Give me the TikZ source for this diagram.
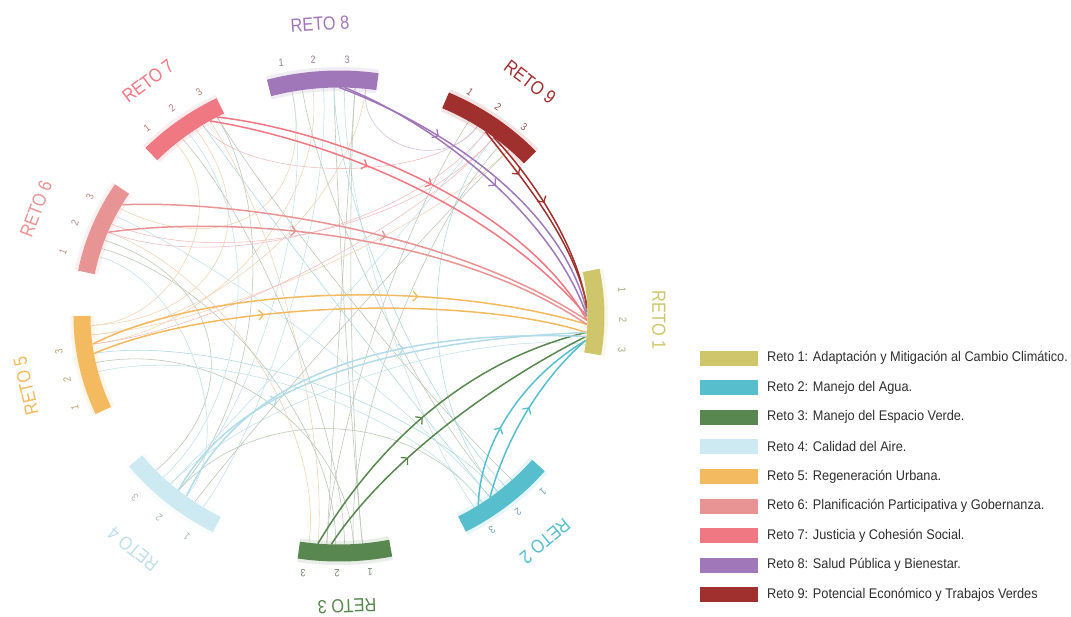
\documentclass[tikz,border=0pt]{standalone}
\usepackage{fontspec}
\newfontfamily\legendfont{Liberation Sans}[FakeStretch=0.91]
\newfontfamily\retofont{Liberation Sans}[FakeStretch=0.86]
\usetikzlibrary{calc,arrows.meta,decorations.markings}

% challenge colours
\definecolor{c1}{HTML}{CFC66C}
\definecolor{c2}{HTML}{56BECD}
\definecolor{c3}{HTML}{58874F}
\definecolor{c4}{HTML}{CDE9F2}
\definecolor{c5}{HTML}{F4BA60}
\definecolor{c6}{HTML}{E89494}
\definecolor{c7}{HTML}{F07882}
\definecolor{c8}{HTML}{A078B9}
\definecolor{c9}{HTML}{A0302D}
% faint chord colours
\definecolor{fgray}{HTML}{BAC6B6}
\definecolor{fblue}{HTML}{C0E2EB}
\definecolor{fpeach}{HTML}{F3D2B0}
\definecolor{fpink}{HTML}{F1BCC0}
\definecolor{flav}{HTML}{CFBFDE}
\definecolor{fteal}{HTML}{ABDAE2}
\definecolor{l4}{HTML}{B3DCE8}
\definecolor{r4text}{HTML}{BFE0EA}
\definecolor{legendtext}{HTML}{2F2F2F}

\tikzset{
  bar/.style={line width=17pt, draw=#1},
  halo/.style={line width=24pt, draw=#1, draw opacity=0.13},
  faint/.style={draw=#1, line width=0.55pt},
  chord/.style={to path={.. controls ($(\tikztostart)!#1!(C)$) and ($(\tikztotarget)!#1!(C)$) .. (\tikztotarget)}},
  chord/.default=0.5,
  flow/.style 2 args={draw=#1, line width=1.5pt, postaction={decorate},
    decoration={markings, mark=at position #2 with {\arrow[line width=1.3pt]{Straight Barb[length=4.5pt,width=10pt]}}}},
  digit/.style={font=\retofont\fontsize{10.5}{11}\selectfont, text=#1, inner sep=0pt},
  reto/.style={font=\retofont\fontsize{19}{20}\selectfont, text=#1, inner sep=0pt},
  swatch/.style={fill=#1, minimum width=58pt, minimum height=15pt, inner sep=0pt},
  legend/.style={font=\legendfont\fontsize{14}{16}\selectfont, text=legendtext, anchor=west, inner sep=0pt},
}

\begin{document}
\begin{tikzpicture}[x=1pt,y=-1pt]
\fill[white] (0,0) rectangle (1071,616);
\useasboundingbox (0,0) rectangle (1071,616);

\coordinate (C) at (339,316);

% attachment points along the inner edge of each challenge arc
\foreach \i/\a/\b in {1/-11.1/9.2,2/39.1/61.4,3/78.4/99,4/118.4/142.3,5/156.5/180,6/190.6/212.4,7/223.1/242.5,8/254.2/278.6,9/294.5/318}{
  \foreach \k in {0,...,20}{
    \pgfmathsetmacro\t{\a+((\b)-(\a))*\k/20}
    \path (C) ++(\t:248 and 228.5) coordinate (e\i-\k);
  }
}

% faint links between challenges
\draw[faint=fgray, chord] (e8-12) to (e3-6);
\draw[faint=fblue, chord] (e8-14) to (e2-16);
\draw[faint=fblue, chord] (e8-10) to (e4-4);
\draw[faint=fgray, chord] (e8-16) to (e3-14);
\draw[faint=fgray, chord] (e8-6) to (e2-10);
\draw[faint=fpeach, chord] (e8-18) to (e5-16);
\draw[faint=fpeach, chord] (e7-16) to (e3-16);
\draw[faint=fgray, chord] (e7-18) to (e2-6);
\draw[faint=fpink, chord=0.3] (e7-14) to (e9-8);
\draw[faint=fpeach, chord] (e7-12) to (e5-18);
\draw[faint=fgray, chord] (e7-18) to (e4-10);
\draw[faint=fpink, chord] (e6-12) to (e9-12);
\draw[faint=fblue, chord] (e6-14) to (e2-12);
\draw[faint=fpeach, chord] (e6-10) to (e3-18);
\draw[faint=fpeach, chord] (e6-16) to (e8-4);
\draw[faint=fgray, chord] (e6-8) to (e4-16);
\draw[faint=fpeach, chord] (e5-16) to (e9-16);
\draw[faint=fpeach, chord] (e5-14) to (e8-8);
\draw[faint=fteal, chord] (e5-12) to (e2-10);
\draw[faint=fgray, chord] (e5-10) to (e3-8);
\draw[faint=fpeach, chord=0.35] (e5-18) to (e7-6);
\draw[faint=fblue, chord] (e4-12) to (e9-10);
\draw[faint=fblue, chord] (e4-10) to (e8-4);
\draw[faint=fblue, chord] (e4-14) to (e7-10);
\draw[faint=fblue, chord=0.35] (e4-8) to (e6-4);
\draw[faint=fblue, chord] (e4-12) to (e1-18);
\draw[faint=fgray, chord] (e4-10) to (e2-14);
\draw[faint=fgray, chord] (e3-8) to (e9-14);
\draw[faint=fgray, chord] (e3-10) to (e7-8);
\draw[faint=fgray, chord] (e3-12) to (e6-6);
\draw[faint=fgray, chord] (e3-6) to (e8-16);
\draw[faint=fgray, chord] (e3-14) to (e9-6);
\draw[faint=fteal, chord] (e2-8) to (e8-12);
\draw[faint=fteal, chord] (e2-12) to (e7-14);
\draw[faint=fteal, chord] (e2-10) to (e9-12);
\draw[faint=fblue, chord] (e2-14) to (e5-8);
\draw[faint=fpink, chord] (e9-12) to (e5-14);
\draw[faint=flav, chord=0.25] (e9-8) to (e8-18);
\draw[faint=fpink, chord] (e9-10) to (e6-10);
\draw[faint=fgray, chord] (e9-16) to (e4-6);

% main flows into challenge 1
\draw[flow={c5}{0.66}] (e5-14) .. controls (210,285) and (440,280) .. (e1-13);
\draw[flow={c5}{0.35}] (e5-12) .. controls (220,300) and (470,295) .. (e1-15);
\draw[flow={c6}{0.55}] (e6-17) .. controls (230,200) and (450,230) .. (e1-12);
\draw[flow={c6}{0.38}] (e6-10) .. controls (230,215) and (450,232) .. (e1-13);
\draw[flow={c7}{0.38}] (e7-16) .. controls (300,135) and (480,190) .. (e1-11);
\draw[flow={c7}{0.52}] (e7-18) .. controls (330,130) and (520,200) .. (e1-12);
\draw[flow={c8}{0.32}] (e8-13) .. controls (440,125) and (562,205) .. (e1-10);
\draw[flow={c8}{0.53}] (e8-14) .. controls (445,128) and (555,222) .. (e1-11);
\draw[flow={c9}{0.27}] (e9-10) .. controls (515,170) and (572,235) .. (e1-8);
\draw[flow={c9}{0.42}] (e9-12) .. controls (530,175) and (578,245) .. (e1-9);
\draw[flow={c3}{0.47}] (e3-16) .. controls (380,440) and (470,360) .. (e1-15);
\draw[flow={c3}{0.35}] (e3-13) .. controls (380,470) and (480,390) .. (e1-16);
\draw[flow={c2}{0.4}] (e2-15) .. controls (480,445) and (520,380) .. (e1-17);
\draw[flow={c2}{0.53}] (e2-12) .. controls (505,440) and (540,380) .. (e1-17);
\draw[flow={l4}{0.3}] (e4-10) .. controls (240,380) and (400,340) .. (e1-15);
\draw[flow={l4}{0.6}] (e4-8) .. controls (250,360) and (420,330) .. (e1-16);

% challenge arcs
\foreach \i/\a/\b in {1/-11.1/9.2,2/39.1/61.4,3/78.4/99,4/118.4/142.3,5/156.5/180,6/190.6/212.4,7/223.1/242.5,8/254.2/278.6,9/294.5/318}{
  \draw[halo=c\i] (C) ++(\a:257 and 237) arc[start angle=\a, end angle=\b, x radius=257, y radius=237];
  \draw[bar=c\i] (C) ++(\a:257 and 237) arc[start angle=\a, end angle=\b, x radius=257, y radius=237];
}

% sub-position numbers
\foreach \i/\r/\xa/\ya/\xb/\yb/\xc/\yc in {
  1/-90/622/290/623/320/622/350,
  2/-140/543/492/518/512/492/530,
  3/180/370/572/337/573/303/573,
  4/140/187/537/159/518/135/498,
  5/100/75/408/67/380/59/352,
  6/68/63/252/75/223/90/197,
  7/37/147/128/172/108/199/92,
  8/4/281/63/313/60/347/60,
  9/-36/470/92/498/107/524/127}{
  \node[digit=c\i!55!gray, rotate=\r] (d\i-1) at (\xa,\ya) {1};
  \node[digit=c\i!55!gray, rotate=\r] (d\i-2) at (\xb,\yb) {2};
  \node[digit=c\i!55!gray, rotate=\r] (d\i-3) at (\xc,\yc) {3};
}

% challenge titles
\node[reto=c1, rotate=-90] (L1) at (659,320) {RETO 1};
\node[reto=c2, rotate=-140] (L2) at (545,541) {RETO 2};
\node[reto=c3, rotate=-178] (L3) at (347,606) {RETO 3};
\node[reto=r4text, rotate=141] (L4) at (133,549) {RETO 4};
\node[reto=c5, rotate=103] (L5) at (26,386) {RETO 5};
\node[reto=c6, rotate=69] (L6) at (36,209) {RETO 6};
\node[reto=c7, rotate=37] (L7) at (148,81) {RETO 7};
\node[reto=c8, rotate=4] (L8) at (320,24) {RETO 8};
\node[reto=c9, rotate=-37] (L9) at (530,82) {RETO 9};

% legend
\foreach \i/\txt in {
  1/{Reto 1: Adaptación y Mitigación al Cambio Climático.},
  2/{Reto 2: Manejo del Agua.},
  3/{Reto 3: Manejo del Espacio Verde.},
  4/{Reto 4: Calidad del Aire.},
  5/{Reto 5: Regeneración Urbana.},
  6/{Reto 6: Planificación Participativa y Gobernanza.},
  7/{Reto 7: Justicia y Cohesión Social.},
  8/{Reto 8: Salud Pública y Bienestar.},
  9/{Reto 9: Potencial Económico y Trabajos Verdes}}{
  \node[swatch=c\i] (k\i) at (729,{358+29.6*(\i-1)}) {};
  \node[legend] (t\i) at (767,{358+29.6*(\i-1)}) {\txt};
}
\end{tikzpicture}
\end{document}
